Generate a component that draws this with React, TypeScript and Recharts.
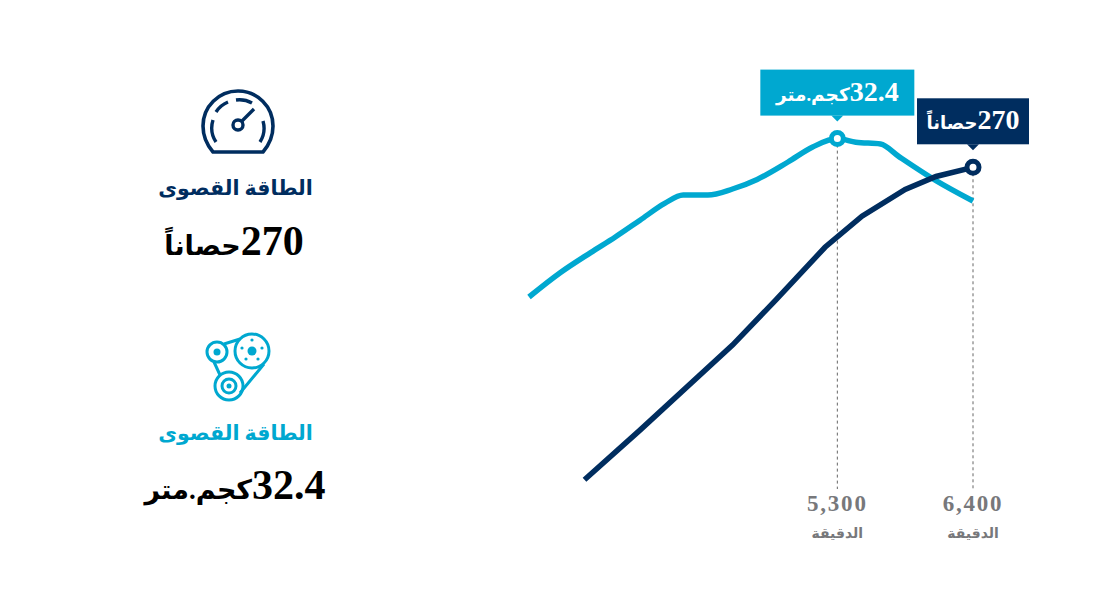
import { LineChart, Line, XAxis, YAxis, ReferenceLine, ReferenceDot } from 'recharts';

const torqueRpm = [2800, 3050, 3300, 3500, 3700, 3900, 4050, 4250, 4450, 4650, 4900, 5100, 5300, 5450, 5650, 5800, 6100, 6400];
const torqueValues = [19.2, 21.2, 22.9, 24.2, 25.6, 27.0, 27.7, 27.7, 28.2, 29.0, 30.45, 31.7, 32.4, 32.1, 31.95, 30.9, 28.9, 27.2];
const powerRpm = [3250, 3700, 4450, 4800, 5200, 5500, 5850, 6100, 6400];
const powerValues = [100, 127, 173.3, 197.7, 226.5, 243.4, 258, 265, 270];
const rpmTicks = [5300, 6400];

const PEAK_TORQUE_RPM = 5300;
const PEAK_TORQUE = 32.4;
const PEAK_POWER_RPM = 6400;
const PEAK_POWER = 270;

const NAVY = '#002d5f';
const TEAL = '#00a8d0';
const GREY = '#77787b';
const SERIF = '"Liberation Serif", "DejaVu Serif", "DejaVu Sans", serif';

const torqueData = torqueRpm.map((rpm, i) => ({ rpm, torque: torqueValues[i] }));
const powerData = powerRpm.map((rpm, i) => ({ rpm, power: powerValues[i] }));

const RpmTick = ({ x, y, payload }: any) => (
    <g fontFamily={SERIF} textAnchor="middle" fill={GREY} fontWeight="bold">
        <text x={x} y={14 + y} fontSize={23} letterSpacing={1.8}>{payload.value.toLocaleString('en-US')}</text>
        <text x={x} y={41 + y} fontSize={14} direction="rtl">الدقيقة</text>
    </g>
);

// number and unit run at different sizes, the Arabic fallback is much wider than the latin face
const Callout = ({ viewBox, fill, number, unit, unitSize, width }: any) => {
    const cx = viewBox.x + viewBox.width / 2;
    const cy = viewBox.y + viewBox.height / 2;
    const left = cx - width / 2;
    const top = cy - 69;
    return (
        <g>
            <rect x={left} y={top} width={width} height={46} fill={fill} />
            <polygon points={`${cx - 6},${top + 46} ${cx + 6},${top + 46} ${cx},${top + 52}`} fill={fill} />
            <text x={left + width / 2} y={top + 31} fill="#fff" fontFamily={SERIF} fontWeight="bold" fontSize={28} textAnchor="middle" direction="rtl">
                <tspan letterSpacing={0.8}>{number}</tspan><tspan fontSize={unitSize}>{unit}</tspan>
            </text>
        </g>
    );
};

const Overlay = () => (
    <svg width={1120} height={600} style={{ position: 'absolute', left: 0, top: 0, pointerEvents: 'none' }}>
        <g fill="none" stroke={NAVY} strokeWidth={3.6}>
            <path d="M213 152 C207 145 203 136 203 126 A35 35 0 0 1 273 126 C273 136 269 145 263 152 Z" strokeLinejoin="round" />
            <path d="M216 142 A26 26 0 0 1 213 120 M216 112 A26 26 0 0 1 228 102 M236 100 A26 26 0 0 1 252 103 M263 121 A26 26 0 0 1 260 142" strokeWidth={3.4} />
            <circle cx={238} cy={125} r={5} strokeWidth={3.4} />
            <path d="M242 121 L254 109" strokeWidth={3.4} />
        </g>
        <g fill="none" stroke={TEAL} strokeWidth={3}>
            <circle cx={217} cy={352} r={10} />
            <circle cx={252} cy={351} r={17} />
            <circle cx={229} cy={386} r={14} />
            <circle cx={229} cy={386} r={7} />
            <path d="M224 344 L240 339 M214 362 L220 375 M264 364 L240 393" />
        </g>
        <g fill={TEAL}>
            <circle cx={217} cy={352} r={3.5} />
            <circle cx={252} cy={351} r={4.5} />
            <circle cx={229} cy={386} r={2.5} />
            <circle cx={252} cy={340} r={1.6} />
            <circle cx={242} cy={348} r={1.6} />
            <circle cx={262} cy={348} r={1.6} />
            <circle cx={246} cy={359} r={1.6} />
            <circle cx={258} cy={359} r={1.6} />
        </g>
        <g fontFamily={SERIF} fontWeight="bold" textAnchor="middle" direction="rtl">
            <text x={235.5} y={195} fontSize={20.5} fill={NAVY}>الطاقة القصوى</text>
            <text x={234} y={255} fontSize={42} fill="#000"><tspan letterSpacing={1}>270</tspan><tspan fontSize={27}>حصاناً</tspan></text>
            <text x={235.5} y={440} fontSize={20.5} fill={TEAL}>الطاقة القصوى</text>
            <text x={235} y={499} fontSize={42} fill="#000"><tspan letterSpacing={1}>32.4</tspan><tspan fontSize={27}>كجم.متر</tspan></text>
        </g>
    </svg>
);

const App = () => (
    <div style={{ position: 'absolute', left: 0, top: 0, width: 1120, height: 600, background: '#fff' }}>
        <LineChart width={1120} height={600} margin={{ top: 57, right: 147, left: 529, bottom: 51 }}>
            <XAxis
                dataKey="rpm"
                type="number"
                domain={[2800, 6400]}
                ticks={rpmTicks}
                axisLine={false}
                tickLine={false}
                tick={<RpmTick />}
                height={60}
                interval={0}
                allowDuplicatedCategory={false}
            />
            <YAxis yAxisId="torque" hide domain={[3.2, 39.2]} />
            <YAxis yAxisId="power" hide domain={[95, 330]} />
            <ReferenceLine yAxisId="torque" segment={[{ x: PEAK_TORQUE_RPM, y: PEAK_TORQUE }, { x: PEAK_TORQUE_RPM, y: 3.2 }]} stroke="#666" strokeDasharray="3 3" />
            <ReferenceLine yAxisId="power" segment={[{ x: PEAK_POWER_RPM, y: PEAK_POWER }, { x: PEAK_POWER_RPM, y: 95 }]} stroke="#666" strokeDasharray="3 3" />
            <Line yAxisId="torque" data={torqueData} dataKey="torque" type="monotone" stroke={TEAL} strokeWidth={5.5} dot={false} isAnimationActive={false} />
            <Line yAxisId="power" data={powerData} dataKey="power" type="linear" stroke={NAVY} strokeWidth={5.5} dot={false} isAnimationActive={false} />
            <ReferenceDot
                yAxisId="torque"
                x={PEAK_TORQUE_RPM}
                y={PEAK_TORQUE}
                r={6}
                fill="#fff"
                stroke={TEAL}
                strokeWidth={5}
                label={<Callout fill={TEAL} width={154} number="32.4" unit="كجم.متر" unitSize={18.5} />}
            />
            <ReferenceDot
                yAxisId="power"
                x={PEAK_POWER_RPM}
                y={PEAK_POWER}
                r={6}
                fill="#fff"
                stroke={NAVY}
                strokeWidth={5}
                label={<Callout fill={NAVY} width={112} number="270" unit="حصاناً" unitSize={18} />}
            />
        </LineChart>
        <Overlay />
    </div>
);

export default App;
